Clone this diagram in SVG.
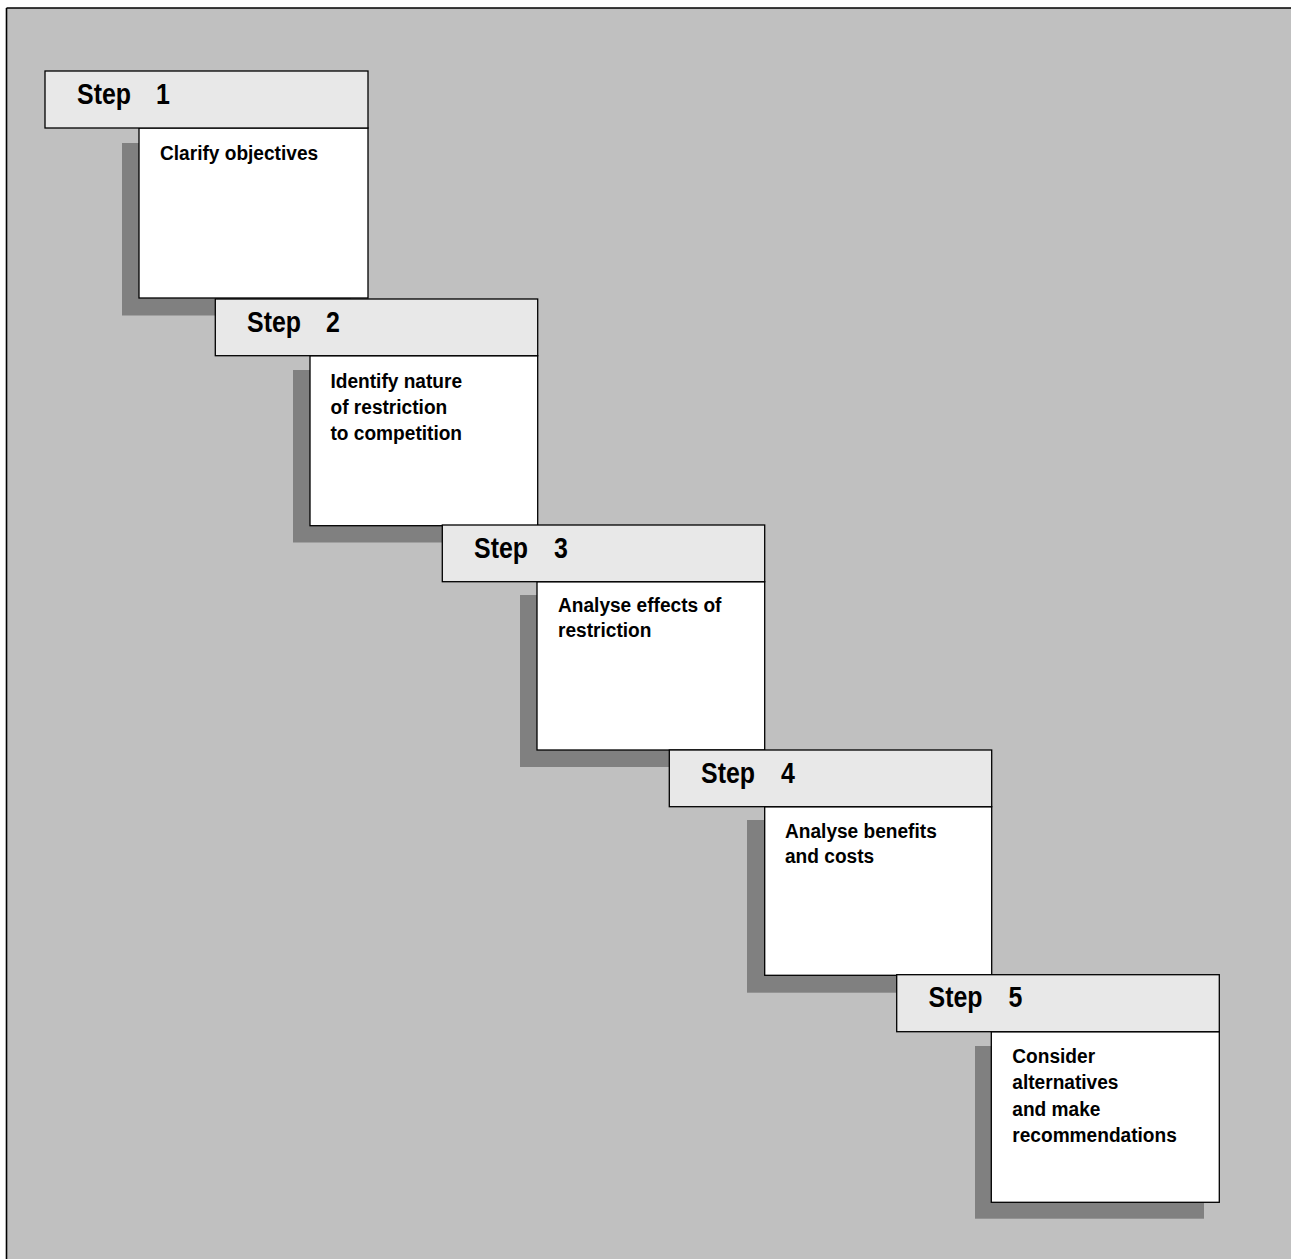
<svg xmlns="http://www.w3.org/2000/svg" width="1291" height="1259" viewBox="0 0 1291 1259">
<style>
.hdr{fill:#e8e8e8;stroke:#000;stroke-width:1.3}
.body{fill:#fff;stroke:#000;stroke-width:1.3}
.shadow{fill:#808080}
.st{font-family:"Liberation Sans",Arial,sans-serif;font-weight:bold;font-size:29px;fill:#000}
.bt{font-family:"Liberation Sans",Arial,sans-serif;font-weight:bold;font-size:21px;fill:#000}
</style>
<rect x="0" y="0" width="1291" height="1259" fill="#fff"/>
<rect id="background" x="6.5" y="8" width="1290" height="1260" fill="#c0c0c0"/>
<line x1="6.5" y1="8" x2="1291" y2="8" stroke="#000" stroke-width="1.6"/>
<line x1="6.5" y1="8" x2="6.5" y2="1259" stroke="#000" stroke-width="1.6"/>
<g id="connectors"></g>
<g id="step1">
<rect class="shadow" x="122" y="143" width="229" height="172.5"/>
<rect class="body" x="139" y="128" width="229" height="170"/>
<rect class="hdr" x="45" y="71" width="323" height="57"/>
<text class="st" transform="translate(77,103.5) scale(0.86,1)">Step</text>
<text class="st" transform="translate(156,103.5) scale(0.86,1)">1</text>
<text class="bt" transform="translate(160,159.5) scale(0.91,1)">Clarify objectives</text>
</g>
<g id="step2">
<rect class="shadow" x="293" y="370" width="229" height="172.5"/>
<rect class="body" x="310" y="355.7" width="227.7" height="170"/>
<rect class="hdr" x="215.3" y="299" width="322.4" height="56.7"/>
<text class="st" transform="translate(247,331.5) scale(0.86,1)">Step</text>
<text class="st" transform="translate(326,331.5) scale(0.86,1)">2</text>
<text class="bt" transform="translate(330.5,388.3) scale(0.91,1)"><tspan x="0" y="0">Identify nature</tspan><tspan x="0" y="26">of restriction</tspan><tspan x="0" y="52">to competition</tspan></text>
</g>
<g id="step3">
<rect class="shadow" x="520" y="595" width="229" height="172"/>
<rect class="body" x="537" y="581.7" width="227.7" height="168.3"/>
<rect class="hdr" x="442.3" y="525" width="322.4" height="56.7"/>
<text class="st" transform="translate(474,557.5) scale(0.86,1)">Step</text>
<text class="st" transform="translate(554,557.5) scale(0.86,1)">3</text>
<text class="bt" transform="translate(558,611.5) scale(0.91,1)"><tspan x="0" y="0">Analyse effects of</tspan><tspan x="0" y="26">restriction</tspan></text>
</g>
<g id="step4">
<rect class="shadow" x="747" y="820" width="229" height="172.7"/>
<rect class="body" x="764.7" y="806.7" width="227" height="168.6"/>
<rect class="hdr" x="669.3" y="750" width="322.4" height="56.7"/>
<text class="st" transform="translate(701,782.5) scale(0.86,1)">Step</text>
<text class="st" transform="translate(781,782.5) scale(0.86,1)">4</text>
<text class="bt" transform="translate(785,837.5) scale(0.91,1)"><tspan x="0" y="0">Analyse benefits</tspan><tspan x="0" y="26">and costs</tspan></text>
</g>
<g id="step5">
<rect class="shadow" x="975" y="1046" width="229" height="172.7"/>
<rect class="body" x="991.3" y="1031.7" width="228" height="170.6"/>
<rect class="hdr" x="896.7" y="974.7" width="322.6" height="57"/>
<text class="st" transform="translate(928.5,1007) scale(0.86,1)">Step</text>
<text class="st" transform="translate(1008.5,1007) scale(0.86,1)">5</text>
<text class="bt" transform="translate(1012.3,1063) scale(0.91,1)"><tspan x="0" y="0">Consider</tspan><tspan x="0" y="26.3">alternatives</tspan><tspan x="0" y="52.6">and make</tspan><tspan x="0" y="78.9">recommendations</tspan></text>
</g>
</svg>
